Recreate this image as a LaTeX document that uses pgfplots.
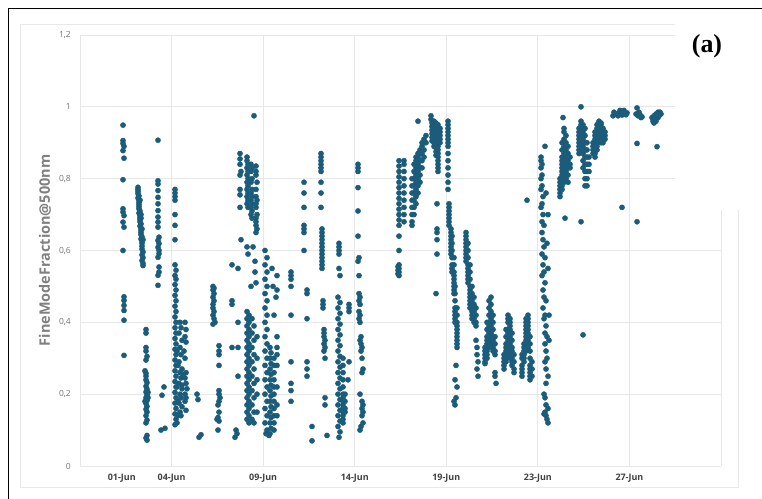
\documentclass[border=0pt]{standalone}
\usepackage{pgfplots}
\pgfplotsset{compat=1.18}
\usepackage{fontspec}
\setmainfont{Open Sans}
\newfontfamily\serifb{Liberation Serif}
\definecolor{dot}{RGB}{27,92,122}
\definecolor{gridc}{RGB}{232,232,232}
\begin{document}
\begin{tikzpicture}[x=1bp,y=1bp]
\useasboundingbox (0,0) rectangle (762,499);
\begin{axis}[
  at={(80bp,33bp)}, anchor=south west, scale only axis,
  width=641bp, height=431bp,
  xmin=80, xmax=721, ymin=0, ymax=1.2,
  axis line style={draw=none}, major tick length=0pt,
  xtick={80,171.57,263.14,354.71,446.29,537.86,629.43,721},
  xticklabels={,04-Jun,09-Jun,14-Jun,19-Jun,23-Jun,27-Jun,},
  extra x ticks={121.7}, extra x tick labels={01-Jun},
  extra x tick style={grid=none},
  ytick={0,0.2,0.4,0.6,0.8,1,1.2},
  yticklabels={0,{0,2},{0,4},{0,6},{0,8},1,{1,2}},
  grid=major, major grid style={draw=gridc, line width=0.8bp},
  xticklabel style={font=\fontsize{9}{10}\selectfont\bfseries, text=black!75, inner sep=0pt, yshift=-8bp},
  yticklabel style={font=\fontsize{8.5}{10}\selectfont, text=black!55, inner sep=0pt, xshift=-9bp},
  every axis y label/.style={at={(axis description cs:-0.0546,0.5)}, rotate=90, anchor=center},
  ylabel={FineModeFraction@500nm},
  ylabel style={font=\fontsize{14.5}{16}\selectfont\bfseries, text=black!50},
]
\addplot[only marks, mark=*, mark size=2.6bp, color=dot, mark options={draw=dot, fill=dot}] coordinates {
(123,0.949)(123,0.906)(123,0.898)(124,0.890)(123,0.878)(124,0.857)(123,0.797)(123,0.716)(123,0.707)(124,0.697)(123,0.679)(124,0.665)(123,0.600)(124,0.471)(124,0.461)(124,0.447)(124,0.433)(124,0.406)(124,0.308)
(138,0.776)(138,0.770)(138,0.764)(138,0.758)(139,0.752)(138,0.746)(139,0.740)(139,0.734)(139,0.728)(139,0.722)(139,0.716)(140,0.710)(139,0.704)(140,0.698)(140,0.692)(140,0.686)(140,0.680)(141,0.674)(140,0.668)(141,0.662)(141,0.656)(141,0.650)(141,0.644)(142,0.638)(141,0.632)(142,0.626)(142,0.620)(142,0.612)(142,0.604)(143,0.596)(142,0.588)(143,0.580)(142,0.572)(143,0.564)(143,0.558)(140,0.740)(141,0.700)(142,0.660)(141,0.690)(143,0.630)
(146,0.380)(146,0.370)(146,0.330)(146,0.320)(147,0.305)(146,0.295)(145,0.265)(146,0.258)(146,0.250)(146,0.240)(147,0.232)(146,0.222)(147,0.214)(146,0.206)(147,0.198)(146,0.190)(147,0.182)(146,0.174)(147,0.166)(146,0.158)(147,0.150)(146,0.140)(147,0.128)(146,0.120)(147,0.085)(146,0.078)(147,0.072)(148,0.190)(148,0.205)(145,0.180)
(158,0.907)(158,0.794)(158,0.785)(158,0.767)(158,0.748)(158,0.730)(158,0.711)(158,0.693)(158,0.679)(158,0.665)(159,0.637)(158,0.628)(159,0.619)(158,0.609)(159,0.600)(159,0.591)(158,0.581)(159,0.554)(159,0.540)(158,0.531)(158,0.503)
(162,0.197)(164,0.220)(161,0.100)(165,0.105)
(175,0.77)(175,0.76)(175,0.75)(175,0.74)(175,0.70)(175,0.67)(175,0.63)
(175,0.56)(176,0.545)(175,0.53)(176,0.52)(175,0.505)(176,0.49)(175,0.475)(176,0.46)(175,0.445)(176,0.43)(175,0.415)(176,0.40)(175,0.385)(176,0.37)(175,0.355)(176,0.34)(175,0.325)(176,0.31)(175,0.295)(176,0.28)(175,0.265)(176,0.25)(175,0.235)(176,0.22)(175,0.205)(176,0.19)(175,0.175)(176,0.16)(175,0.145)(176,0.13)(175,0.115)
(180,0.40)(181,0.385)(179,0.37)(182,0.35)(180,0.33)(181,0.31)(179,0.29)(182,0.27)(180,0.26)(181,0.245)(179,0.23)(182,0.215)(180,0.20)(181,0.19)(179,0.175)(182,0.165)(180,0.15)(181,0.14)(182,0.225)(183,0.255)
(185,0.40)(186,0.38)(185,0.36)(186,0.345)(185,0.30)(186,0.26)(185,0.245)(186,0.23)(185,0.20)(186,0.19)(185,0.18)(184,0.32)(187,0.215)(186,0.155)
(177,0.12)(178,0.14)(178,0.18)(177,0.22)(178,0.28)(177,0.32)
(197,0.20)(198,0.185)(199,0.08)(201,0.087)
(213,0.50)(214,0.495)(213,0.49)(214,0.48)(213,0.47)(214,0.46)(213,0.45)(213,0.44)(214,0.43)(213,0.42)(214,0.41)(215,0.40)(213,0.395)
(219,0.335)(219,0.32)(219,0.31)(219,0.28)
(219,0.21)(219,0.20)(220,0.19)(219,0.18)(218,0.17)(219,0.15)(218,0.135)(219,0.125)(218,0.10)(217,0.13)
(232,0.56)(232,0.46)(232,0.45)(232,0.33)(238,0.55)(238,0.40)(238,0.33)(238,0.25)(236,0.10)(237,0.09)(235,0.08)
(240,0.87)(240,0.855)(240,0.84)(241,0.82)(240,0.81)(240,0.77)(240,0.755)(240,0.72)(241,0.63)
(247,0.86)(247,0.85)(248,0.84)(247,0.83)(248,0.82)(247,0.81)(248,0.80)(247,0.79)(248,0.78)(247,0.77)(248,0.76)(247,0.75)(248,0.74)(247,0.73)(248,0.72)
(251,0.84)(252,0.83)(251,0.82)(252,0.80)(251,0.79)(252,0.77)(251,0.76)(252,0.75)(251,0.74)(252,0.73)(251,0.72)(252,0.71)(251,0.70)(252,0.69)
(256,0.835)(256,0.82)(256,0.81)(257,0.79)(256,0.77)(256,0.75)(257,0.74)(256,0.73)(256,0.72)(257,0.70)(256,0.69)(256,0.68)(256,0.67)(257,0.66)(256,0.65)
(254,0.975)
(247,0.61)(248,0.59)(253,0.61)(255,0.54)(256,0.51)(251,0.50)(255,0.57)
(247,0.43)(249,0.42)(247,0.41)(249,0.40)(247,0.39)(249,0.38)(247,0.37)(249,0.36)(247,0.35)(249,0.34)(247,0.33)(249,0.32)(247,0.31)(249,0.30)(247,0.29)(249,0.28)(247,0.27)(249,0.26)(247,0.25)(249,0.24)(247,0.23)(249,0.22)(247,0.21)(249,0.20)(247,0.19)(249,0.18)(247,0.17)(249,0.16)(247,0.15)(249,0.14)(247,0.13)(249,0.12)
(252,0.41)(254,0.39)(252,0.37)(254,0.35)(252,0.33)(254,0.31)(252,0.29)(254,0.27)(252,0.25)(254,0.23)(252,0.21)(254,0.19)(252,0.17)(254,0.15)(252,0.13)(254,0.12)
(257,0.36)(257,0.30)(257,0.24)(257,0.20)(257,0.15)
(265,0.60)(267,0.58)(265,0.56)(267,0.54)(265,0.52)(267,0.50)(265,0.48)(267,0.46)(265,0.44)(267,0.42)(265,0.40)(267,0.38)(265,0.36)(267,0.34)(265,0.32)(267,0.30)(265,0.28)(267,0.26)(265,0.24)(267,0.22)(265,0.20)(267,0.18)(265,0.16)(267,0.14)(265,0.12)(267,0.10)(266,0.09)
(270,0.33)(271,0.315)(270,0.30)(271,0.285)(270,0.27)(271,0.255)(270,0.24)(271,0.225)(270,0.21)(271,0.195)(270,0.18)(271,0.165)(270,0.15)(271,0.135)(270,0.12)(271,0.105)(270,0.09)(269,0.085)
(274,0.30)(274,0.28)(274,0.26)(274,0.24)(274,0.22)(274,0.20)(274,0.18)(274,0.16)(274,0.14)(274,0.12)(274,0.10)
(277,0.36)(277,0.33)(277,0.31)(277,0.28)(277,0.22)(277,0.17)(277,0.14)(277,0.53)(277,0.49)
(272,0.55)(273,0.50)(276,0.47)(274,0.42)
(291,0.54)(291,0.53)(291,0.52)(291,0.50)(291,0.42)(291,0.29)(291,0.23)(291,0.21)(291,0.18)
(304,0.79)(304,0.76)(304,0.72)(304,0.67)(304,0.66)(304,0.65)(304,0.60)(307,0.49)(307,0.48)(307,0.41)(307,0.29)(307,0.27)(307,0.25)(312,0.11)(312,0.07)
(321,0.87)(321,0.86)(321,0.85)(321,0.84)(321,0.83)(321,0.82)(321,0.79)(321,0.76)(321,0.72)(322,0.66)(322,0.65)(322,0.64)(322,0.63)(322,0.62)(322,0.61)(322,0.60)(322,0.59)(322,0.58)(322,0.57)(322,0.56)(322,0.55)(323,0.46)(323,0.45)(323,0.44)(324,0.38)(324,0.37)(324,0.36)(325,0.35)(324,0.34)(325,0.33)(324,0.32)(325,0.30)(325,0.19)(325,0.17)(327,0.085)
(339,0.62)(339,0.61)(339,0.60)(339,0.59)(339,0.55)(340,0.53)
(338,0.47)(340,0.455)(338,0.44)(340,0.425)(338,0.41)(340,0.395)(338,0.38)(340,0.365)(338,0.35)(340,0.335)(338,0.32)(340,0.305)(338,0.29)(340,0.275)(338,0.26)(340,0.245)(338,0.23)(340,0.215)(338,0.20)(340,0.185)(338,0.17)(340,0.155)(338,0.14)(340,0.125)(338,0.11)(340,0.095)(339,0.08)
(343,0.30)(343,0.28)(343,0.26)(343,0.24)(343,0.22)(343,0.20)(343,0.19)(343,0.18)(343,0.17)(343,0.16)(343,0.15)(343,0.14)(343,0.13)(343,0.12)
(345,0.20)(345,0.18)(345,0.16)(345,0.15)
(349,0.45)(349,0.44)(349,0.43)(349,0.29)(348,0.24)
(358,0.84)(358,0.83)(358,0.82)(358,0.775)(358,0.71)(358,0.64)(359,0.58)(358,0.57)(359,0.53)(359,0.48)(360,0.47)(359,0.46)(360,0.45)(359,0.43)(360,0.42)(359,0.41)(360,0.40)(361,0.36)(360,0.35)(361,0.34)(362,0.33)(361,0.32)(362,0.30)(363,0.27)(362,0.26)(360,0.20)(362,0.18)(363,0.17)(362,0.16)(363,0.15)(362,0.14)(363,0.12)(361,0.11)(360,0.10)
(399,0.85)(399,0.835)(399,0.82)(399,0.805)(399,0.79)(399,0.775)(399,0.76)(399,0.745)(399,0.73)(399,0.715)(399,0.70)(399,0.685)(399,0.67)(399,0.64)(399,0.60)(399,0.56)(398,0.555)(399,0.55)(398,0.545)(399,0.54)(398,0.535)(399,0.53)
(404,0.85)(404,0.84)(404,0.82)(404,0.80)(404,0.78)(404,0.76)(404,0.74)(404,0.72)(404,0.70)(404,0.68)
(412,0.80)(412,0.78)(412,0.76)(412,0.74)(412,0.72)(412,0.70)(412,0.68)(412,0.67)
(414,0.84)(414,0.82)(414,0.80)(414,0.78)(414,0.76)(414,0.74)(414,0.72)(414,0.70)
(416,0.86)(416,0.85)(416,0.83)(416,0.81)(416,0.79)(416,0.77)(416,0.75)(416,0.73)
(418,0.87)(418,0.86)(418,0.84)(418,0.82)(418,0.80)(418,0.78)(418,0.76)(418,0.96)
(420,0.88)(420,0.87)(420,0.85)(420,0.83)(420,0.81)(420,0.79)
(422,0.90)(422,0.89)(422,0.87)(422,0.85)(422,0.83)
(424,0.91)(424,0.90)(424,0.88)(424,0.86)(426,0.92)(426,0.90)
(431,0.975)(431,0.965)
(432,0.955)(432,0.945)(432,0.935)(432,0.925)(432,0.915)(432,0.905)
(434,0.96)(434,0.95)(434,0.94)(434,0.93)(434,0.92)(434,0.91)(434,0.90)(434,0.89)
(436,0.955)(436,0.945)(436,0.935)(436,0.925)(436,0.915)(436,0.905)(436,0.895)(436,0.885)(436,0.875)(436,0.865)
(438,0.95)(438,0.94)(438,0.93)(438,0.92)(438,0.91)(438,0.90)(438,0.89)(438,0.88)(438,0.87)(438,0.86)(438,0.85)(438,0.84)(438,0.83)(438,0.82)
(440,0.94)(440,0.93)(440,0.92)(440,0.91)(440,0.90)
(437,0.73)(437,0.66)(437,0.65)(437,0.63)(437,0.59)(436,0.48)
(448,0.96)(448,0.95)(448,0.94)(448,0.93)(448,0.92)(448,0.91)(448,0.90)(448,0.89)(448,0.87)(448,0.85)(448,0.83)(448,0.81)(448,0.79)(448,0.77)
(449,0.73)(449,0.72)(449,0.71)(449,0.70)(449,0.69)(449,0.68)(449,0.67)
(451,0.66)(451,0.65)(451,0.64)(451,0.63)(451,0.62)(451,0.61)(451,0.60)(451,0.59)
(452,0.64)(452,0.62)(452,0.60)(452,0.58)(452,0.56)(452,0.55)(452,0.54)
(454,0.58)(454,0.56)(454,0.54)(454,0.53)(454,0.52)(454,0.51)(454,0.50)(454,0.49)(454,0.48)
(455,0.50)(455,0.48)(455,0.46)(455,0.44)(455,0.43)(455,0.42)(455,0.41)(455,0.40)
(457,0.44)(457,0.42)(457,0.40)(457,0.39)(457,0.38)(457,0.37)(457,0.36)(457,0.35)(457,0.34)(457,0.33)
(456,0.28)(455,0.24)(457,0.22)(456,0.19)(455,0.17)(454,0.18)
(466,0.65)(466,0.64)(466,0.63)(466,0.62)(466,0.61)(466,0.60)(466,0.59)(466,0.58)(466,0.57)
(468,0.62)(468,0.60)(468,0.58)(468,0.56)(468,0.55)(468,0.54)(468,0.53)(468,0.52)(468,0.51)
(470,0.56)(470,0.54)(470,0.52)(470,0.50)(470,0.49)(470,0.48)(470,0.47)(470,0.46)(470,0.45)(470,0.44)
(472,0.50)(472,0.48)(472,0.46)(472,0.45)(472,0.44)(472,0.43)(472,0.42)(472,0.41)
(474,0.47)(474,0.45)(474,0.43)(474,0.42)(474,0.41)(474,0.40)
(476,0.44)(476,0.42)(476,0.40)(476,0.39)
(477,0.33)(477,0.31)(478,0.29)(477,0.27)(478,0.25)(476,0.35)
(485,0.33)(485,0.32)(485,0.31)(485,0.30)(485,0.29)(485,0.285)
(487,0.40)(487,0.38)(487,0.36)(487,0.35)(487,0.34)(487,0.33)(487,0.32)(487,0.31)(487,0.30)
(489,0.46)(489,0.44)(489,0.42)(489,0.40)(489,0.39)(489,0.38)(489,0.37)(489,0.36)(489,0.35)(489,0.34)(489,0.33)
(491,0.47)(491,0.45)(491,0.43)(491,0.41)(491,0.40)(491,0.39)(491,0.38)(491,0.37)(491,0.36)(491,0.35)
(493,0.42)(493,0.40)(493,0.38)(493,0.36)(493,0.35)(493,0.34)(493,0.33)(493,0.32)
(495,0.36)(495,0.34)(495,0.32)(495,0.31)
(495,0.26)(495,0.25)(496,0.23)
(504,0.31)(504,0.30)(504,0.29)(504,0.28)(504,0.27)
(506,0.38)(506,0.36)(506,0.34)(506,0.33)(506,0.32)(506,0.31)(506,0.30)(506,0.29)
(508,0.42)(508,0.41)(508,0.40)(508,0.38)(508,0.37)(508,0.36)(508,0.35)(508,0.34)(508,0.33)(508,0.32)(508,0.31)
(510,0.41)(510,0.40)(510,0.39)(510,0.38)(510,0.37)(510,0.36)(510,0.35)(510,0.34)(510,0.33)(510,0.32)(510,0.31)(510,0.30)
(512,0.37)(512,0.35)(512,0.33)(512,0.32)(512,0.31)(512,0.30)(512,0.29)(512,0.28)
(514,0.31)(514,0.29)(514,0.27)(514,0.26)
(522,0.31)(522,0.30)(522,0.28)(522,0.27)(522,0.26)(522,0.25)
(524,0.34)(524,0.33)(524,0.32)(524,0.31)(524,0.30)(524,0.29)
(526,0.41)(526,0.40)(526,0.39)(526,0.38)(526,0.37)(526,0.36)(526,0.35)(526,0.34)(526,0.33)(526,0.32)
(528,0.42)(528,0.41)(528,0.40)(528,0.39)(528,0.38)(528,0.37)(528,0.36)(528,0.35)(528,0.34)(528,0.33)
(530,0.36)(530,0.34)(530,0.32)(530,0.30)(530,0.28)(530,0.27)(530,0.26)(530,0.25)(530,0.24)
(532,0.29)(532,0.27)(532,0.25)
(527,0.74)
(545,0.89)(541,0.86)(541,0.85)(542,0.84)(541,0.83)(542,0.81)(541,0.80)(542,0.78)(541,0.77)(543,0.75)(542,0.73)(541,0.72)(543,0.70)(542,0.68)(544,0.67)(542,0.65)(543,0.63)(544,0.61)(542,0.59)(545,0.58)(543,0.56)(544,0.54)(542,0.53)(545,0.51)(543,0.49)(544,0.47)(546,0.46)(543,0.44)(545,0.42)(544,0.41)(546,0.39)(545,0.37)(547,0.36)(545,0.34)(546,0.32)(547,0.30)(545,0.29)(546,0.27)(548,0.25)(546,0.23)(544,0.20)(545,0.19)(546,0.17)(545,0.15)(546,0.14)(547,0.13)(548,0.12)(544,0.145)(548,0.16)(549,0.35)(549,0.42)(548,0.55)(547,0.62)(548,0.70)(546,0.76)
(560,0.80)(560,0.79)(560,0.78)(560,0.77)(560,0.76)(560,0.75)
(562,0.90)(562,0.88)(562,0.86)(562,0.85)(562,0.84)(562,0.83)(562,0.82)(562,0.81)(562,0.80)(562,0.79)(562,0.78)(562,0.77)
(564,0.94)(564,0.93)(564,0.91)(564,0.89)(564,0.87)(564,0.85)(564,0.83)(564,0.81)(564,0.79)
(566,0.92)(566,0.90)(566,0.88)(566,0.86)(566,0.84)(566,0.82)(566,0.80)
(568,0.89)(568,0.87)(568,0.85)(568,0.83)(568,0.81)(568,0.79)
(570,0.86)(570,0.84)(570,0.83)(563,0.97)(565,0.69)
(581,1.00)
(579,0.94)(579,0.93)(579,0.92)(579,0.91)(579,0.90)(579,0.89)(579,0.88)(579,0.87)
(581,0.96)(581,0.95)(581,0.94)(581,0.93)(581,0.92)(581,0.91)(581,0.90)(581,0.89)(581,0.88)
(583,0.95)(583,0.93)(583,0.91)(583,0.89)(583,0.87)(583,0.85)(583,0.83)
(585,0.94)(585,0.92)(585,0.90)(585,0.88)(585,0.86)(585,0.84)(585,0.82)(585,0.80)(585,0.78)
(587,0.90)(587,0.88)(587,0.86)(587,0.84)(587,0.82)(587,0.80)(587,0.78)
(589,0.86)(589,0.84)(589,0.82)
(581,0.68)(583,0.365)
(593,0.90)(593,0.89)(593,0.88)(593,0.87)
(595,0.93)(595,0.92)(595,0.91)(595,0.90)(595,0.89)(595,0.88)(595,0.87)(595,0.86)
(597,0.95)(597,0.94)(597,0.93)(597,0.92)(597,0.91)(597,0.90)(597,0.89)(597,0.88)
(599,0.96)(599,0.955)(599,0.95)(599,0.94)(599,0.93)(599,0.92)(599,0.91)
(601,0.955)(601,0.95)(601,0.94)(601,0.93)(601,0.92)(601,0.91)(601,0.90)
(603,0.94)(603,0.93)(603,0.92)(603,0.91)(603,0.90)
(605,0.93)(605,0.92)(605,0.91)
(613,0.975)(615,0.98)(617,0.98)(619,0.982)(621,0.983)(623,0.985)(625,0.984)(627,0.983)(614,0.985)(618,0.975)(622,0.977)(626,0.978)(620,0.99)(624,0.99)
(637,0.997)(636,0.98)(638,0.975)(640,0.978)(642,0.972)(639,0.985)(641,0.97)(637,0.898)
(652,0.97)(654,0.975)(656,0.98)(658,0.985)(660,0.985)(653,0.96)(655,0.965)(657,0.97)(659,0.975)(661,0.98)(654,0.955)(656,0.96)(658,0.97)(657,0.889)
(622,0.72)(637,0.68)
};
\end{axis}
% chart area border
\draw[gridc, line width=1bp] (20,11) rectangle (738,474);
% white box with panel label
\fill[white] (675,289) rectangle (761,490);
\node[font=\serifb\bfseries\fontsize{26}{28}\selectfont] at (707,453) {(a)};
% outer frame
\draw[black, line width=1.8bp] (8.5,0) -- (8.5,490.5) -- (762,490.5);
\end{tikzpicture}
\end{document}
